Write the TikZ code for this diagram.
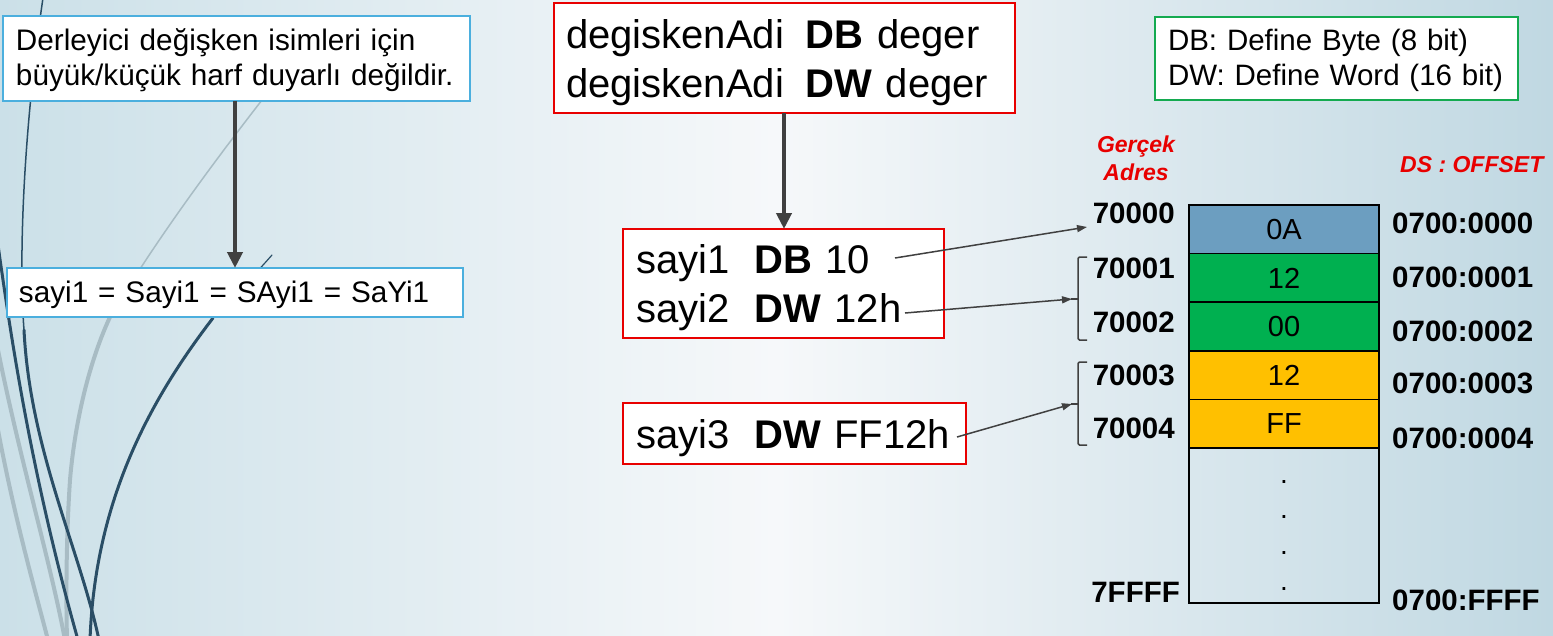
\documentclass[tikz,border=0pt]{standalone}
\usepackage{fontspec}
\setmainfont{Liberation Sans}
\usetikzlibrary{arrows.meta}
\definecolor{bgside}{RGB}{203,224,232}
\definecolor{bgmid}{RGB}{246,248,250}
\definecolor{bgright}{RGB}{192,216,226}
\definecolor{boxblue}{RGB}{75,175,222}
\definecolor{boxred}{RGB}{232,0,0}
\definecolor{boxgreen}{RGB}{20,170,80}
\definecolor{arrowgray}{RGB}{64,64,64}
\definecolor{cellblue}{RGB}{108,158,192}
\definecolor{cellgreen}{RGB}{0,176,80}
\definecolor{cellyellow}{RGB}{255,192,0}
\definecolor{curvedark}{RGB}{42,78,102}
\definecolor{curvegray}{RGB}{168,188,196}
\definecolor{labelred}{RGB}{232,0,0}
\newcommand\myTop[1]{\rule{0pt}{#1pt}}
\newcommand\myBot[1]{\rule[-#1pt]{0pt}{#1pt}}
\begin{document}
\begin{tikzpicture}[x=1pt,y=-1pt,
  box/.style={anchor=north west, inner ysep=0pt, align=left, fill=white, line width=2.8pt, outer sep=0pt},
  bluebox/.style={box, draw=boxblue},
  redbox/.style={box, draw=boxred},
  greenbox/.style={box, draw=boxgreen},
  bigarrow/.style={draw=arrowgray, line width=4.5pt, -{Triangle[length=16pt,width=15pt]}},
  thinarrow/.style={draw=arrowgray, line width=1.5pt, -{Triangle[length=10pt,width=7pt]}},
  bracket/.style={draw=arrowgray, line width=1.5pt, rounded corners=1.5pt},
  cell/.style={draw=black, line width=1.5pt, minimum width=190pt, anchor=north, inner sep=0pt, outer sep=0pt, font=\fontsize{29}{34}\selectfont},
  addr/.style={font=\fontsize{29.5}{35}\selectfont\bfseries, inner sep=0pt},
  redlabel/.style={font=\fontsize{23}{28}\selectfont\bfseries\itshape, text=labelred, inner sep=0pt},
  deco/.style={line width=3pt, line cap=round},
]
\useasboundingbox (0,0) rectangle (1553,635);
\shade[left color=bgside, right color=bgright, middle color=bgmid] (0,0) rectangle (1553,635);

% decorative curves
\begin{scope}
\clip (0,0) rectangle (1553,635);
\draw[deco, draw=curvegray, line width=1.5pt] (262,100) .. controls (200,180) and (150,250) .. (110,317);
\draw[deco, draw=curvegray, line width=4pt] (110,317) .. controls (90,360) and (75,420) .. (70,480) .. controls (66,540) and (66,600) .. (67,640);
\draw[deco, draw=curvegray, line width=4pt] (-2,350) .. controls (20,460) and (50,560) .. (65,640);
\draw[deco, draw=curvegray, line width=4pt] (-2,430) .. controls (15,520) and (35,590) .. (48,640);
\draw[deco, draw=curvedark, line width=1.5pt] (43,-2) .. controls (25,120) and (18,250) .. (24,330);
\draw[deco, draw=curvedark] (24,330) .. controls (30,450) and (80,550) .. (99,640);
\draw[deco, draw=curvedark] (-2,245) .. controls (10,330) and (30,470) .. (78,640);
\draw[deco, draw=curvedark, line width=1.2pt] (272,255) .. controls (250,280) and (230,300) .. (213,318);
\draw[deco, draw=curvedark] (213,318) .. controls (150,400) and (95,500) .. (90,640);
\end{scope}

% text boxes
\node[bluebox, inner xsep=13pt, text width=441pt, font=\fontsize{29.7}{35}\selectfont] (note1) at (3,16)
  {\myTop{34}\mbox{Derleyici değişken isimleri için}\\\mbox{büyük/küçük harf duyarlı değildir.}\myBot{16}};
\node[bluebox, inner xsep=12pt, text width=432pt, font=\fontsize{29.7}{35}\selectfont] (note2) at (7,268)
  {\myTop{34}\mbox{sayi1 = Sayi1 = SAyi1 = SaYi1}\myBot{15}};
\node[redbox, inner xsep=12pt, text width=437pt, font=\fontsize{40}{49}\selectfont] (syntax) at (554,3)
  {\myTop{45}\mbox{degiskenAdi\hspace{0.55em}\textbf{DB} deger}\\\mbox{degiskenAdi\hspace{0.55em}\textbf{DW} deger}\myBot{16}};
\node[redbox, inner xsep=13pt, text width=295pt, font=\fontsize{40}{49}\selectfont] (decl12) at (623,229)
  {\myTop{44}\mbox{sayi1\hspace{0.63em}\textbf{DB} 10}\\\mbox{sayi2\hspace{0.63em}\textbf{DW} 12h}\myBot{16}};
\node[redbox, inner xsep=13pt, text width=317pt, font=\fontsize{40}{49}\selectfont] (decl3) at (623,403)
  {\myTop{45}\mbox{sayi3\hspace{0.63em}\textbf{DW} FF12h}\myBot{16}};
\node[greenbox, inner xsep=13pt, text width=337pt, font=\fontsize{29.5}{35}\selectfont] (legend) at (1155,17)
  {\myTop{33}\mbox{DB: Define Byte (8 bit)}\\\mbox{DW: Define Word (16 bit)}\myBot{15}};

% big arrows
\draw[bigarrow] (235,0 |- note1.south) -- (235,0 |- note2.north);
\draw[bigarrow] (784,0 |- syntax.south) -- (784,0 |- decl12.north);

% memory cells
\node[cell, fill=cellblue, minimum height=48.6pt] (c0) at (1284,205) {0A};
\node[cell, fill=cellgreen, minimum height=48.6pt] (c1) at (c0.south) {12};
\node[cell, fill=cellgreen, minimum height=48.6pt] (c2) at (c1.south) {00};
\node[cell, fill=cellyellow, minimum height=48.6pt] (c3) at (c2.south) {12};
\node[cell, fill=cellyellow, minimum height=48.6pt] (c4) at (c3.south) {FF};
\node[cell, minimum height=155pt] (c5) at (c4.south) {};
\node[font=\fontsize{28}{35.7}\selectfont, align=center, inner sep=0pt, anchor=north] (dots) at (1284,480) {.\\.\\.\\.};

% address labels
\node[redlabel, align=center, anchor=north] (gercek) at (1136,130) {\myTop{22}Gerçek\\Adres};
\node[redlabel, anchor=base west] (dsoff) at (1400,172) {DS : OFFSET};
\node[addr, anchor=base east] (a0) at (1175,223) {70000};
\node[addr, anchor=base east] (a1) at (1175,278) {70001};
\node[addr, anchor=base east] (a2) at (1175,332) {70002};
\node[addr, anchor=base east] (a3) at (1175,385) {70003};
\node[addr, anchor=base east] (a4) at (1175,438) {70004};
\node[addr, anchor=base east] (aF) at (1180,602) {7FFFF};
\node[addr, anchor=base west] (o0) at (1392,233) {0700:0000};
\node[addr, anchor=base west] (o1) at (1392,287) {0700:0001};
\node[addr, anchor=base west] (o2) at (1392,341) {0700:0002};
\node[addr, anchor=base west] (o3) at (1392,393) {0700:0003};
\node[addr, anchor=base west] (o4) at (1392,448) {0700:0004};
\node[addr, anchor=base west] (oF) at (1392,610) {0700:FFFF};

% brackets
\draw[bracket] (1087,257) -- (1078,257) -- (1078,340) -- (1087,340);
\draw[bracket] (1078,299) -- (1071,299);
\draw[bracket] (1087,362) -- (1078,362) -- (1078,445) -- (1087,445);
\draw[bracket] (1078,404) -- (1071,404);

% thin arrows
\coordinate (s1) at (895,258);
\coordinate (s2) at (905,313);
\coordinate (s3) at (957,437);
\coordinate (t0) at (1087,227);
\coordinate (t1) at (1072,299);
\coordinate (t2) at (1072,404);
\draw[thinarrow] (s1) -- (t0);
\draw[thinarrow] (s2) -- (t1);
\draw[thinarrow] (s3) -- (t2);
\end{tikzpicture}
\end{document}
